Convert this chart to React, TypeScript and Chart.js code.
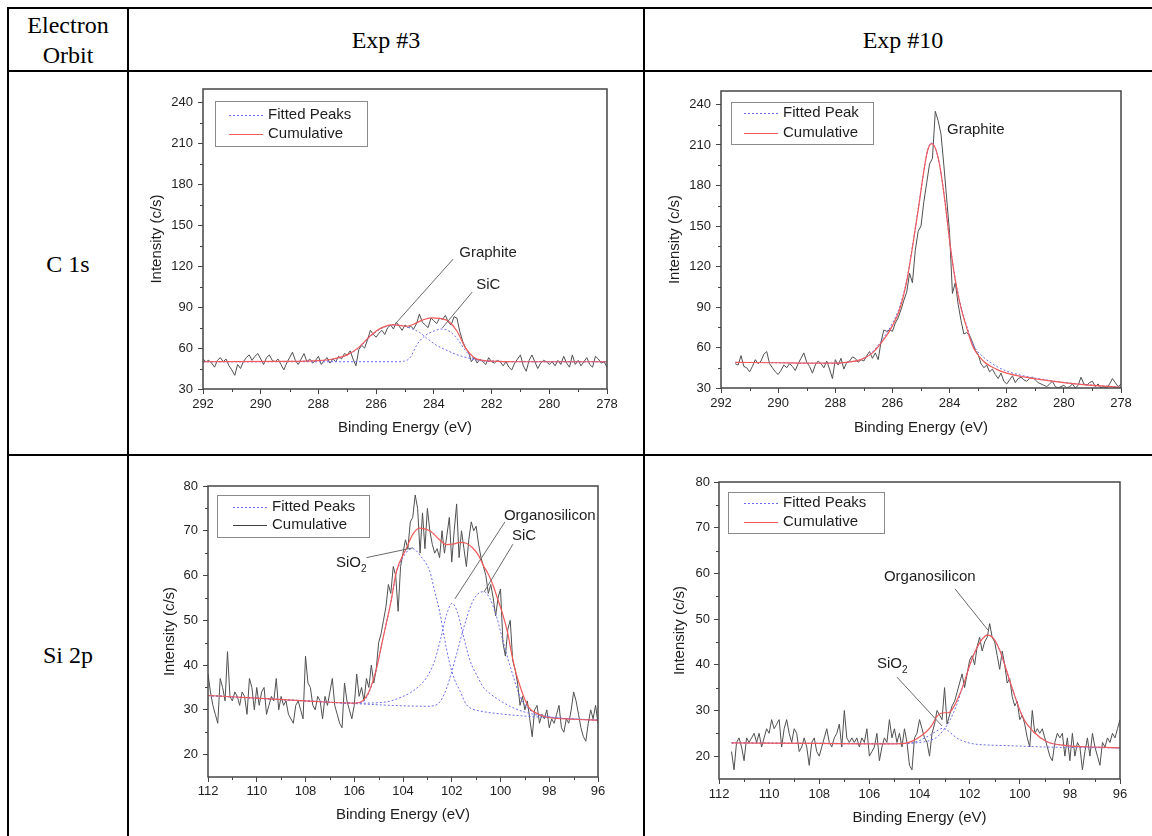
import React, { useEffect, useRef } from 'react';
import { Chart, registerables } from 'chart.js';

Chart.register(...registerables);

const SANS = '"Liberation Sans", Arial, sans-serif';
const SERIF = '"Liberation Serif", "Times New Roman", serif';
const RAW_COLOR = '#505050';
const FIT_COLOR = '#6b6bf0';
const CUM_COLOR = '#f25a5a';
const AXIS_COLOR = '#454545';
const TEXT_COLOR = '#1e1e1e';

// ---------- C 1s, Exp #3 ----------
const C1S_EXP3_RAW_START = 292.0;
const C1S_EXP3_RAW_STEP = 0.1;
const c1sExp3Raw = [
  52, 50, 51, 49, 46, 51, 53, 50, 52, 47,
  44, 40, 48, 45, 50, 53, 55, 51, 54, 56,
  52, 48, 53, 55, 51, 50, 52, 48, 44, 49,
  53, 57, 51, 48, 52, 56, 50, 52, 49, 51,
  54, 48, 51, 53, 49, 52, 50, 54, 52, 56,
  55, 58, 52, 47, 59, 62, 60, 66, 73, 70,
  68, 71, 73, 70, 75, 77, 74, 79, 76, 73,
  77, 75, 76, 74, 78, 85, 79, 77, 75, 82,
  80, 78, 82, 81, 84, 79, 77, 83, 82, 72,
  65, 60, 57, 50, 53, 49, 52, 50, 48, 53,
  50, 49, 51, 50, 47, 50, 46, 44, 49, 52,
  55, 47, 43, 51, 55, 50, 45, 49, 51, 50,
  48, 50, 47, 51, 48, 54, 49, 46, 55, 48,
  51, 47, 50, 53, 48, 46, 54, 52, 49, 50,
  46,
];
const c1sExp3CumX = [292, 289, 288, 287.5, 287, 286.6, 286.2, 285.8, 285.4, 285.0, 284.7, 284.4, 284.1, 283.8, 283.5, 283.2, 282.9, 282.6, 282.3, 282, 281, 278];
const c1sExp3CumY = [50, 50.2, 50.8, 52, 55, 60.5, 69, 75, 77.2, 76, 77.5, 80.5, 82.2, 81.8, 79.8, 72.5, 60, 53, 51, 50.4, 50, 50];
const c1sExp3GraphiteX = [292, 288, 287.5, 287, 286.6, 286.2, 285.8, 285.4, 285.1, 284.8, 284.5, 284.2, 283.9, 283.6, 283.3, 283, 282.6, 282.2, 281.5, 278];
const c1sExp3GraphiteY = [50, 50.6, 51.8, 54.8, 60.2, 68.5, 74.5, 76.8, 76.5, 74.5, 71.5, 66.5, 62, 58.8, 56, 53.8, 51.8, 50.8, 50.2, 50];
const c1sExp3SicX = [292, 285.2, 285.05, 284.9, 284.8, 284.6, 284.35, 284.0, 283.72, 283.44, 283.15, 282.92, 282.63, 282.28, 281.5, 278];
const c1sExp3SicY = [50, 50, 50.3, 51.5, 53.7, 62, 68.3, 72.5, 74, 72, 65.9, 58.6, 52.5, 50.5, 50, 50];

// ---------- C 1s, Exp #10 ----------
const C1S_EXP10_RAW_START = 291.5;
const C1S_EXP10_RAW_STEP = 0.1;
const c1sExp10Raw = [
  48, 47, 54, 46, 45, 42, 46, 51, 48, 50,
  55, 57, 48, 45, 42, 40, 43, 47, 45, 48,
  46, 43, 48, 52, 56, 49, 46, 41, 47, 50,
  48, 45, 50, 44, 37, 51, 47, 52, 44, 49,
  50, 53, 52, 49, 51, 50, 54, 57, 52, 56,
  51, 64, 73, 72, 73, 72, 78, 82, 88, 95,
  101, 115, 108, 132, 146, 150, 168, 182, 196, 200,
  235, 228, 218, 195, 170, 145, 100, 108, 92, 80,
  70, 71, 69, 64, 58, 55, 48, 45, 47, 42,
  44, 40, 37, 41, 35, 33, 36, 39, 34, 37,
  38, 36, 35, 37, 38, 36, 34, 33, 32, 31,
  33, 35, 31, 30, 31, 32, 30, 31, 33, 30,
  32, 38, 33, 32, 34, 35, 31, 33, 30, 31,
  30, 33, 37, 34, 31, 33,
];
const c1sExp10CumX = [291.5, 290, 289, 288, 287.5, 287.1, 286.7, 286.3, 286.0, 285.75, 285.5, 285.27, 285.09, 284.92, 284.78, 284.63, 284.47, 284.33, 284.16, 283.98, 283.81, 283.63, 283.4, 283.17, 282.82, 282.35, 282.0, 281.4, 280.8, 279.7, 278];
const c1sExp10CumY = [49, 48.7, 48.4, 48.4, 49.3, 51, 56, 66, 76, 88, 109, 138, 163, 188, 205, 211, 206, 193, 168, 136, 111, 92, 74.5, 60, 50, 43.8, 41, 38.2, 36.2, 33.3, 30.5];
const c1sExp10FitX = [291.5, 290, 289, 288, 287.5, 287.1, 286.7, 286.3, 286.0, 285.75, 285.5, 285.27, 285.09, 284.92, 284.78, 284.65, 284.47, 284.33, 284.16, 283.98, 283.81, 283.63, 283.4, 283.17, 282.82, 282.35, 282.0, 281.4, 280.8, 279.7, 278];
const c1sExp10FitY = [49, 48.7, 48.4, 48.4, 49.3, 51.2, 56.8, 67.5, 78, 90, 110, 139, 164, 188, 205, 211.5, 206, 193, 168, 136, 112, 93, 76, 62, 53, 46, 42.5, 39, 36.6, 33.4, 30.5];

// ---------- Si 2p, Exp #3 ----------
const SI2P_EXP3_RAW_START = 112.0;
const SI2P_EXP3_RAW_STEP = 0.1;
const si2pExp3Raw = [
  38, 34, 31, 29, 27, 37, 35, 32, 43, 33,
  32, 34, 33, 31, 34, 33, 29, 37, 35, 30,
  35, 31, 34, 35, 29, 31, 33, 32, 37, 30,
  33, 31, 32, 29, 28, 27, 31, 32, 30, 28,
  42, 36, 35, 31, 30, 33, 32, 28, 33, 31,
  34, 37, 31, 29, 27, 26, 36, 32, 30, 28,
  31, 38, 33, 35, 32, 37, 35, 40, 36, 39,
  45, 47, 50, 53, 58, 56, 62, 60, 52, 62,
  65, 68, 66, 72, 73, 78, 75, 65, 74, 66,
  75, 70, 67, 65, 66, 64, 70, 65, 69, 73,
  63, 70, 76, 64, 70, 66, 62, 68, 72, 70,
  71, 67, 64, 62, 60, 56, 58, 55, 51, 55,
  57, 45, 42, 48, 50, 41, 39, 36, 31, 33,
  30, 32, 28, 24, 30, 31, 27, 29, 28, 30,
  26, 28, 27, 29, 31, 26, 25, 28, 27, 30,
  34, 32, 29, 26, 24, 23, 27, 30, 28, 31,
  27,
];
const si2pExp3CumX = [112, 110, 108, 106, 105.6, 105.37, 105.1, 104.82, 104.5, 104.27, 103.86, 103.6, 103.32, 102.9, 102.5, 102.22, 101.95, 101.67, 101.4, 101.13, 100.9, 100.72, 100.5, 100.31, 100.1, 99.9, 99.7, 99.56, 99.4, 99.21, 99.0, 98.8, 98.5, 98.12, 97, 96];
const si2pExp3CumY = [33.2, 32.6, 32, 31.5, 32.3, 34.4, 39, 46, 54, 60.9, 66.1, 69.2, 70.6, 70, 68, 66.9, 67, 67.4, 67.2, 66.1, 64.5, 62.4, 60.3, 57.9, 54.5, 51.2, 47, 43, 39, 35.5, 32.3, 30.3, 29.2, 28.4, 27.9, 27.7];
const si2pExp3Sio2X = [112, 108, 106, 105.64, 105.37, 105.1, 104.82, 104.5, 104.27, 103.86, 103.59, 103.3, 102.9, 102.7, 102.5, 102.3, 102.1, 101.9, 101.67, 101.4, 101.2, 100.8, 100.17, 99, 98.12, 96];
const si2pExp3Sio2Y = [33.2, 32, 31.5, 31.8, 34.2, 39, 46, 54, 60.5, 65.2, 66, 64.5, 60.9, 56.5, 52, 46, 40.7, 37, 34.3, 31.2, 30.3, 29.7, 29.2, 28.6, 28.3, 27.7];
const si2pExp3OrganoX = [112, 108, 106, 105, 104.5, 104, 103.7, 103.3, 103, 102.7, 102.45, 102.2, 101.98, 101.75, 101.5, 101.25, 100.95, 100.7, 100.4, 100, 99.5, 99, 98, 96];
const si2pExp3OrganoY = [33.2, 32, 31.5, 31.6, 32, 33, 33.8, 35.5, 37.5, 41, 46, 51.5, 53.8, 51.5, 46, 41, 37.5, 35, 33.5, 32, 30.5, 29.5, 28.4, 27.7];
const si2pExp3SicX = [112, 108, 106, 104, 103, 102.6, 102.4, 102.2, 102.0, 101.8, 101.5, 101.2, 100.95, 100.69, 100.45, 100.2, 99.95, 99.7, 99.45, 99.2, 98.95, 98.7, 98.3, 97.5, 96];
const si2pExp3SicY = [33.2, 32, 31.4, 30.9, 30.8, 31.2, 32.5, 35, 38.5, 42.5, 48.5, 53.5, 55.8, 56.4, 55, 51.5, 46.5, 41.5, 37, 33, 30.8, 29.6, 28.8, 28.1, 27.7];

// ---------- Si 2p, Exp #10 ----------
const SI2P_EXP10_RAW_START = 111.5;
const SI2P_EXP10_RAW_STEP = 0.1;
const si2pExp10Raw = [
  21, 17, 23, 24, 22, 19, 24, 23, 24, 25,
  23, 25, 22, 24, 26, 25, 28, 26, 27, 28,
  22, 26, 28, 25, 23, 26, 25, 21, 22, 24,
  22, 18, 23, 24, 21, 20, 22, 24, 26, 23,
  22, 24, 25, 27, 22, 30, 24, 23, 24, 23,
  24, 22, 24, 23, 26, 20, 21, 22, 25, 19,
  22, 24, 23, 28, 24, 26, 23, 25, 22, 26,
  23, 18, 17, 24, 25, 28, 26, 24, 23, 20,
  25, 27, 30, 29, 28, 35, 27, 29, 31, 32,
  34, 36, 38, 35, 38, 41, 42, 40, 44, 46,
  43, 45, 46, 49, 46, 45, 42, 39, 43, 40,
  36, 37, 33, 31, 32, 28, 29, 27, 24, 22,
  30, 25, 26, 25, 26, 24, 22, 20, 19, 23,
  25, 24, 25, 20, 24, 19, 25, 20, 23, 22,
  17, 21, 24, 20, 25, 22, 20, 18, 23, 22,
  24, 23, 25, 24, 26, 28,
];
const si2pExp10CumX = [111.5, 108, 106, 105, 104.5, 104.25, 104, 103.72, 103.5, 103.32, 103.15, 103.0, 102.85, 102.7, 102.52, 102.25, 101.99, 101.72, 101.5, 101.3, 101.15, 101.0, 100.8, 100.6, 100.4, 100.2, 99.86, 99.46, 98.93, 98.13, 97, 96];
const si2pExp10CumY = [22.9, 22.8, 22.7, 22.7, 22.9, 23.4, 24.2, 25.4, 26.8, 28.6, 29.4, 29.5, 29.5, 30.2, 32, 35.6, 40, 43.6, 45.6, 46.5, 46.3, 45.4, 43.2, 40, 36.5, 33.2, 28.3, 25.4, 23.2, 22.3, 22, 21.8];
const si2pExp10Sio2X = [111.5, 106, 105, 104.5, 104.25, 104, 103.8, 103.58, 103.35, 103.15, 103.05, 102.9, 102.7, 102.52, 102.3, 102.1, 101.86, 101.5, 100.5, 99, 98, 96];
const si2pExp10Sio2Y = [22.9, 22.7, 22.7, 22.8, 23, 23.4, 24, 24.6, 25.4, 26, 26.1, 25.7, 24.8, 24, 23.4, 23, 22.7, 22.5, 22.3, 22, 21.9, 21.8];
const si2pExp10OrganoX = [111.5, 106, 105, 104.5, 104, 103.6, 103.3, 103.0, 102.79, 102.52, 102.25, 101.99, 101.72, 101.5, 101.3, 101.15, 101.0, 100.8, 100.6, 100.4, 100.2, 99.86, 99.46, 98.93, 98.13, 97, 96];
const si2pExp10OrganoY = [22.9, 22.8, 22.8, 22.8, 23, 23.4, 24.2, 26, 27.8, 31.2, 35.6, 40, 43.6, 45.6, 46.5, 46.3, 45.4, 43.2, 40, 36.5, 33.2, 28.3, 25.4, 23.2, 22.3, 22, 21.8];

// ---------- ticks ----------
const c1sXMinor = [279, 281, 283, 285, 287, 289, 291];
const c1sYMinor = [45, 75, 105, 135, 165, 195, 225];
const si2pXMinor = [97, 99, 101, 103, 105, 107, 109, 111];
const si2pYMinor = [25, 35, 45, 55, 65, 75];

// ---------- table texts ----------
const headerCol0 = ['Electron', 'Orbit'];
const headerCols = ['Exp #3', 'Exp #10'];
const rowLabels = ['C 1s', 'Si 2p'];

function rawPoints(start: number, step: number, ys: number[]) {
  return ys.map((y, i) => ({ x: Math.round((start - i * step) * 100) / 100, y }));
}
function curvePoints(xs: number[], ys: number[]) {
  return xs.map((x, i) => ({ x, y: ys[i] }));
}

const DOT = [2, 2];

type Series = { data: { x: number; y: number }[]; color: string; dash?: number[]; smooth?: boolean; width?: number };
type LegendItem = { label: string; color: string; dash?: number[] };
type Note = { text: string; sub?: string; x: number; y: number; line?: number[] };
type Spec = {
  key: string; left: number; top: number; w: number; h: number;
  yAxisW: number; xAxisH: number; padTop: number; padRight: number;
  yTitlePad: number; xTitlePad: number; yTickPad: number; xTickPad: number;
  xMin: number; xMax: number; xStep: number; yMin: number; yMax: number; yStep: number;
  xMinor: number[]; yMinor: number[];
  series: Series[];
  legend: { dx: number; dy: number; w: number; h: number; l0: number; l1: number; tx: number; rows: number[]; items: LegendItem[] };
  notes: Note[];
};

const specs: Spec[] = [
  {
    key: 'c1s3', left: 140, top: 85, w: 490, h: 360,
    yAxisW: 63, xAxisH: 56, padTop: 4, padRight: 23,
    yTitlePad: 8, xTitlePad: 8, yTickPad: 5, xTickPad: 3,
    xMin: 278, xMax: 292, xStep: 2, yMin: 30, yMax: 250, yStep: 30,
    xMinor: c1sXMinor, yMinor: c1sYMinor,
    series: [
      { data: curvePoints(c1sExp3CumX, c1sExp3CumY), color: CUM_COLOR, smooth: true, width: 1.2 },
      { data: curvePoints(c1sExp3GraphiteX, c1sExp3GraphiteY), color: FIT_COLOR, dash: DOT, smooth: true },
      { data: curvePoints(c1sExp3SicX, c1sExp3SicY), color: FIT_COLOR, dash: DOT, smooth: true },
      { data: rawPoints(C1S_EXP3_RAW_START, C1S_EXP3_RAW_STEP, c1sExp3Raw), color: RAW_COLOR },
    ],
    legend: {
      dx: 12, dy: 12, w: 152, h: 45, l0: 14, l1: 48, tx: 53, rows: [14, 33],
      items: [
        { label: 'Fitted Peaks', color: FIT_COLOR, dash: DOT },
        { label: 'Cumulative', color: CUM_COLOR },
      ],
    },
    notes: [
      { text: 'Graphite', x: 283.12, y: 129.7, line: [283.33, 125.3, 285.34, 77.7] },
      { text: 'SiC', x: 282.53, y: 106.3, line: [282.67, 101.1, 283.71, 74.7] },
    ],
  },
  {
    key: 'c1s10', left: 650, top: 85, w: 495, h: 360,
    yAxisW: 71, xAxisH: 57, padTop: 6, padRight: 24,
    yTitlePad: 16, xTitlePad: 8, yTickPad: 5, xTickPad: 3,
    xMin: 278, xMax: 292, xStep: 2, yMin: 30, yMax: 250, yStep: 30,
    xMinor: c1sXMinor, yMinor: c1sYMinor,
    series: [
      { data: curvePoints(c1sExp10CumX, c1sExp10CumY), color: CUM_COLOR, smooth: true, width: 1.2 },
      { data: curvePoints(c1sExp10FitX, c1sExp10FitY), color: FIT_COLOR, dash: DOT, smooth: true },
      { data: rawPoints(C1S_EXP10_RAW_START, C1S_EXP10_RAW_STEP, c1sExp10Raw), color: RAW_COLOR },
    ],
    legend: {
      dx: 10, dy: 11, w: 142, h: 42, l0: 13, l1: 47, tx: 52, rows: [11, 31],
      items: [
        { label: 'Fitted Peak', color: FIT_COLOR, dash: DOT },
        { label: 'Cumulative', color: CUM_COLOR },
      ],
    },
    notes: [{ text: 'Graphite', x: 284.09, y: 221 }],
  },
  {
    key: 'si2p3', left: 140, top: 470, w: 480, h: 366,
    yAxisW: 68, xAxisH: 59, padTop: 16, padRight: 22,
    yTitlePad: 21, xTitlePad: 12, yTickPad: 5, xTickPad: 2,
    xMin: 96, xMax: 112, xStep: 2, yMin: 15, yMax: 80, yStep: 10,
    xMinor: si2pXMinor, yMinor: si2pYMinor,
    series: [
      { data: curvePoints(si2pExp3CumX, si2pExp3CumY), color: CUM_COLOR, smooth: true, width: 1.2 },
      { data: curvePoints(si2pExp3Sio2X, si2pExp3Sio2Y), color: FIT_COLOR, dash: DOT, smooth: true },
      { data: curvePoints(si2pExp3OrganoX, si2pExp3OrganoY), color: FIT_COLOR, dash: DOT, smooth: true },
      { data: curvePoints(si2pExp3SicX, si2pExp3SicY), color: FIT_COLOR, dash: DOT, smooth: true },
      { data: rawPoints(SI2P_EXP3_RAW_START, SI2P_EXP3_RAW_STEP, si2pExp3Raw), color: RAW_COLOR },
    ],
    legend: {
      dx: 9, dy: 9, w: 152, h: 42, l0: 16, l1: 50, tx: 55, rows: [12, 30],
      items: [
        { label: 'Fitted Peaks', color: FIT_COLOR, dash: DOT },
        { label: 'Cumulative', color: '#404040' },
      ],
    },
    notes: [
      { text: 'SiO', sub: '2', x: 106.75, y: 62.8, line: [105.5, 64, 103.59, 66.2] },
      { text: 'Organosilicon', x: 99.86, y: 73.3, line: [99.82, 71.96, 101.87, 54.8] },
      { text: 'SiC', x: 99.53, y: 68.8, line: [99.49, 67.0, 100.68, 56.3] },
    ],
  },
  {
    key: 'si2p10', left: 650, top: 470, w: 495, h: 366,
    yAxisW: 69, xAxisH: 57, padTop: 12, padRight: 25,
    yTitlePad: 21, xTitlePad: 9, yTickPad: 4, xTickPad: 3,
    xMin: 96, xMax: 112, xStep: 2, yMin: 15, yMax: 80, yStep: 10,
    xMinor: si2pXMinor, yMinor: si2pYMinor,
    series: [
      { data: curvePoints(si2pExp10CumX, si2pExp10CumY), color: CUM_COLOR, smooth: true, width: 1.2 },
      { data: curvePoints(si2pExp10Sio2X, si2pExp10Sio2Y), color: FIT_COLOR, dash: DOT, smooth: true },
      { data: curvePoints(si2pExp10OrganoX, si2pExp10OrganoY), color: FIT_COLOR, dash: DOT, smooth: true },
      { data: rawPoints(SI2P_EXP10_RAW_START, SI2P_EXP10_RAW_STEP, si2pExp10Raw), color: RAW_COLOR },
    ],
    legend: {
      dx: 9, dy: 10, w: 156, h: 41, l0: 16, l1: 50, tx: 55, rows: [11, 30],
      items: [
        { label: 'Fitted Peaks', color: FIT_COLOR, dash: DOT },
        { label: 'Cumulative', color: CUM_COLOR },
      ],
    },
    notes: [
      { text: 'Organosilicon', x: 105.42, y: 59.2, line: [102.58, 56.6, 101.27, 47.6] },
      { text: 'SiO', sub: '2', x: 105.7, y: 40.2, line: [104.9, 37.3, 103.1, 26.6] },
    ],
  },
];

function makeDecor(spec: Spec) {
  return {
    id: 'decor_' + spec.key,
    afterDraw(chart: any) {
      const { ctx, chartArea: a, scales } = chart;
      const sx = scales.x;
      const sy = scales.y;
      ctx.save();
      // minor ticks
      ctx.strokeStyle = AXIS_COLOR;
      ctx.lineWidth = 1;
      ctx.beginPath();
      for (const v of spec.xMinor) {
        const px = Math.round(sx.getPixelForValue(v)) + 0.5;
        ctx.moveTo(px, a.bottom);
        ctx.lineTo(px, a.bottom + 3);
      }
      for (const v of spec.yMinor) {
        const py = Math.round(sy.getPixelForValue(v)) + 0.5;
        ctx.moveTo(a.left - 3, py);
        ctx.lineTo(a.left, py);
      }
      ctx.stroke();
      // frame
      ctx.lineWidth = 1.5;
      ctx.strokeRect(a.left, a.top, a.right - a.left, a.bottom - a.top);

      // legend
      const L = spec.legend;
      const bx = a.left + L.dx;
      const by = a.top + L.dy;
      ctx.fillStyle = '#ffffff';
      ctx.fillRect(bx, by, L.w, L.h);
      ctx.strokeStyle = '#8a8a8a';
      ctx.lineWidth = 1;
      ctx.strokeRect(bx + 0.5, by + 0.5, L.w, L.h);
      ctx.font = '15px ' + SANS;
      ctx.textBaseline = 'middle';
      ctx.textAlign = 'left';
      L.items.forEach((it, i) => {
        const ry = Math.round(by + L.rows[i]) + 0.5;
        ctx.strokeStyle = it.color;
        ctx.lineWidth = 1;
        ctx.setLineDash(it.dash || []);
        ctx.beginPath();
        ctx.moveTo(bx + L.l0, ry);
        ctx.lineTo(bx + L.l1, ry);
        ctx.stroke();
        ctx.setLineDash([]);
        ctx.fillStyle = TEXT_COLOR;
        ctx.fillText(it.label, bx + L.tx, by + L.rows[i]);
      });

      // annotations
      for (const n of spec.notes) {
        if (n.line) {
          ctx.strokeStyle = '#6a6a6a';
          ctx.lineWidth = 1;
          ctx.beginPath();
          ctx.moveTo(sx.getPixelForValue(n.line[0]), sy.getPixelForValue(n.line[1]));
          ctx.lineTo(sx.getPixelForValue(n.line[2]), sy.getPixelForValue(n.line[3]));
          ctx.stroke();
        }
        const tx = sx.getPixelForValue(n.x);
        const ty = sy.getPixelForValue(n.y);
        ctx.fillStyle = TEXT_COLOR;
        ctx.font = '15px ' + SANS;
        ctx.textBaseline = 'middle';
        ctx.fillText(n.text, tx, ty);
        if (n.sub) {
          const w = ctx.measureText(n.text).width;
          ctx.font = '10px ' + SANS;
          ctx.fillText(n.sub, tx + w, ty + 6);
        }
      }
      ctx.restore();
    },
  };
}

function XpsChart({ spec }: { spec: Spec }) {
  const ref = useRef<HTMLCanvasElement>(null);
  useEffect(() => {
    const canvas = ref.current;
    if (!canvas) return;
    const tickFont = { family: SANS, size: 13 };
    const titleFont = { family: SANS, size: 15 };
    const chart = new Chart(canvas, {
      type: 'line',
      data: {
        datasets: spec.series.map((s, i) => ({
          label: 's' + i,
          data: s.data,
          borderColor: s.color,
          borderWidth: s.width || 1,
          borderDash: s.dash || [],
          pointRadius: 0,
          fill: false,
          tension: 0,
          cubicInterpolationMode: s.smooth ? 'monotone' : 'default',
        })),
      },
      options: {
        responsive: false,
        animation: false,
        devicePixelRatio: 1,
        events: [],
        layout: { padding: { top: spec.padTop, right: spec.padRight, left: 0, bottom: 0 } },
        plugins: { legend: { display: false }, tooltip: { enabled: false } },
        scales: {
          x: {
            type: 'linear',
            reverse: true,
            min: spec.xMin,
            max: spec.xMax,
            ticks: {
              stepSize: spec.xStep,
              includeBounds: false,
              autoSkip: false,
              maxRotation: 0,
              padding: spec.xTickPad,
              font: tickFont,
              color: TEXT_COLOR,
              callback: (v: any) => String(v),
            },
            grid: { display: true, drawOnChartArea: false, drawTicks: true, tickLength: 5, tickColor: AXIS_COLOR, tickWidth: 1 },
            border: { display: false },
            title: { display: true, text: 'Binding Energy (eV)', font: titleFont, color: TEXT_COLOR, padding: { top: 0, bottom: spec.xTitlePad } },
            afterFit: (s: any) => { s.height = spec.xAxisH; s.paddingLeft = 0; s.paddingRight = 0; },
          },
          y: {
            type: 'linear',
            min: spec.yMin,
            max: spec.yMax,
            ticks: {
              stepSize: spec.yStep,
              includeBounds: false,
              autoSkip: false,
              padding: spec.yTickPad,
              font: tickFont,
              color: TEXT_COLOR,
              callback: (v: any) => String(v),
            },
            grid: { display: true, drawOnChartArea: false, drawTicks: true, tickLength: 5, tickColor: AXIS_COLOR, tickWidth: 1 },
            border: { display: false },
            title: { display: true, text: 'Intensity (c/s)', font: titleFont, color: TEXT_COLOR, padding: { top: spec.yTitlePad, bottom: 0 } },
            afterFit: (s: any) => { s.width = spec.yAxisW; s.paddingTop = 0; s.paddingBottom = 0; },
          },
        },
      } as any,
      plugins: [makeDecor(spec)],
    });
    return () => chart.destroy();
  }, [spec]);
  return (
    <canvas
      ref={ref}
      width={spec.w}
      height={spec.h}
      style={{ position: 'absolute', left: spec.left, top: spec.top, width: spec.w, height: spec.h }}
    />
  );
}

const lineStyle = (left: number, top: number, width: number, height: number): React.CSSProperties => ({
  position: 'absolute', left, top, width, height, background: '#000',
});

const cellText = (left: number, top: number, width: number): React.CSSProperties => ({
  position: 'absolute', left, top, width, textAlign: 'center', fontFamily: SERIF, fontSize: 24, lineHeight: '30px', color: '#000',
});

export default function App() {
  return (
    <div style={{ position: 'absolute', left: 0, top: 0, width: 1152, height: 836, overflow: 'hidden', background: '#fff' }}>
      {/* table borders */}
      <div style={lineStyle(7, 7, 1160, 2)} />
      <div style={lineStyle(7, 70, 1160, 2)} />
      <div style={lineStyle(7, 454, 1160, 2)} />
      <div style={lineStyle(7, 7, 2, 900)} />
      <div style={lineStyle(127, 7, 2, 900)} />
      <div style={lineStyle(643, 7, 2, 900)} />

      {/* header texts */}
      <div style={cellText(9, 10, 118)}>{headerCol0[0]}<br />{headerCol0[1]}</div>
      <div style={cellText(129, 25, 514)}>{headerCols[0]}</div>
      <div style={cellText(645, 25, 516)}>{headerCols[1]}</div>
      <div style={cellText(9, 249, 118)}>{rowLabels[0]}</div>
      <div style={cellText(9, 640, 118)}>{rowLabels[1]}</div>

      {specs.map((s) => (
        <XpsChart key={s.key} spec={s} />
      ))}
    </div>
  );
}
